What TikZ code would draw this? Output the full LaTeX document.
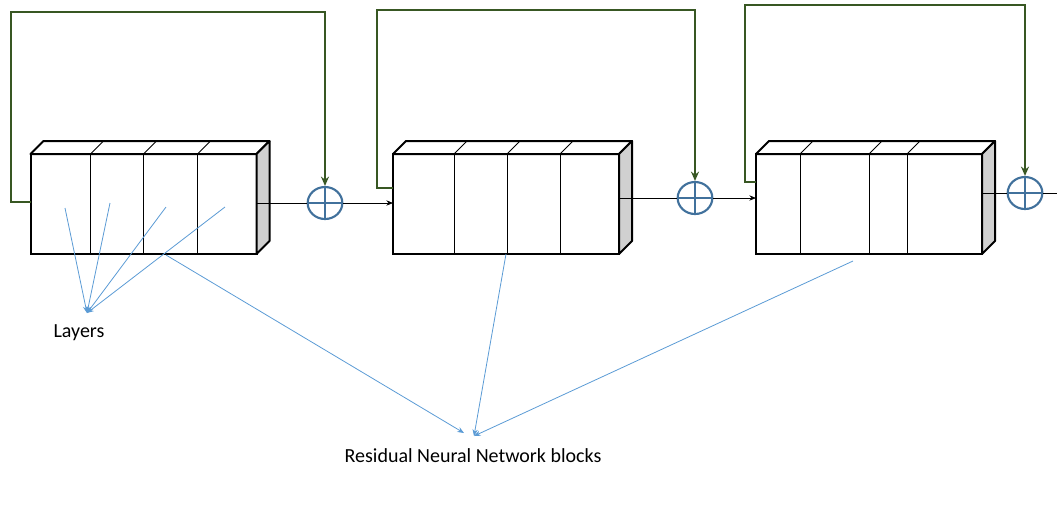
\documentclass[tikz,border=0pt]{standalone}
\usepackage{fontspec}
\setmainfont{Carlito}
\usetikzlibrary{arrows.meta, calc, shapes.geometric}
\definecolor{skipgreen}{HTML}{385723}
\definecolor{plusblue}{HTML}{41719C}
\definecolor{noteblue}{HTML}{5B9BD5}
\definecolor{sidegray}{HTML}{D0D0D0}

\begin{document}
\begin{tikzpicture}[x=0.75pt, y=-0.75pt, >=Stealth]

    % Define styles
    \tikzset{
        face/.style={draw, line width=1.5pt, fill=white, minimum width=169.5pt, minimum height=75pt, inner sep=0pt, outer sep=0pt},
        topface/.style={draw, line width=1.5pt, line join=round, fill=white},
        sideface/.style={draw, line width=1.5pt, line join=round, fill=sidegray},
        divider/.style={line width=0.6pt},
        flow/.style={line width=0.6pt},
        skip/.style={skipgreen, line width=1.6pt, -{Stealth[length=7pt, width=6pt]}},
        plus/.style={ellipse, draw=plusblue, line width=1.6pt, minimum width=26pt, minimum height=24pt, inner sep=0pt,
            path picture={\draw[plusblue, line width=1.6pt] (path picture bounding box.north) -- (path picture bounding box.south)
                (path picture bounding box.west) -- (path picture bounding box.east);}},
        note/.style={noteblue, line width=0.6pt, -{Stealth[length=5pt, width=4pt]}},
        caption/.style={font=\fontsize{15}{18}\selectfont, inner sep=0pt}
    }

    \useasboundingbox (0,0) rectangle (1057,512);

    % 1. Blocks (front face, top, side, layers)
    \def\dep{13}
    \foreach \n/\cx/\dl in {1/143.5/{60,113,167}, 2/506/{61,114,167}, 3/869/{44,113,151}} {
        \node[face] (b\n) at (\cx,204) {};
        \draw[topface] (b\n.north west) -- ++(\dep,-\dep) -- ++(226,0) -- (b\n.north east) -- cycle;
        \draw[sideface] (b\n.north east) -- ++(\dep,-\dep) -- ++(0,100) -- (b\n.south east) -- cycle;
        \foreach \d in \dl {
            \draw[divider] ($(b\n.north west)+(\d,0)$) -- ($(b\n.south west)+(\d,0)$);
            \draw[divider] ($(b\n.north west)+(\d,0)$) -- ++(\dep,-\dep);
        }
    }

    % 2. Sum nodes
    \node[plus] (p1) at (325,203) {};
    \node[plus] (p2) at (695,198) {};
    \node[plus] (p3) at (1025,193) {};
    \coordinate (out) at (1057,193);

    % 3. Main flow
    \draw[flow] (b1.east |- p1) -- (p1.west);
    \draw[flow, -{Stealth[length=5pt, width=4pt]}] (p1.east) -- (p1 -| b2.west);
    \draw[flow] (b2.east |- p2) -- (p2.west);
    \draw[flow, -{Stealth[length=5pt, width=4pt]}] (p2.east) -- (p2 -| b3.west);
    \draw[flow] (b3.east |- p3) -- (p3.west);
    \draw[flow] (p3.east) -- (out);

    % 4. Skip connections (green)
    \draw[skip] (b1.west |- 0,202) -| (11,12) -| (p1.north);
    \draw[skip] (b2.west |- 0,188) -| (377,10) -| (p2.north);
    \draw[skip] (b3.west |- 0,182) -| (745,5) -| (p3.north);

    % 5. Labels
    \node[caption] (lyr) at (79,333) {Layers};
    \node[caption] (rnb) at (473,456) {Residual Neural Network blocks};

    % Layers pointers
    \coordinate (lyrtip) at (87,313);
    \coordinate (l1) at (65,208);
    \coordinate (l2) at (110,203);
    \coordinate (l3) at (166,207);
    \coordinate (l4) at (225,207);
    \foreach \l in {l1,l2,l3,l4}
        \draw[note] (\l) -- (lyrtip);

    % Block pointers
    \coordinate (rt1) at (464,433);
    \coordinate (rt2) at (474,436);
    \coordinate (r1) at (166,255);
    \coordinate (r2) at (506,254);
    \coordinate (r3) at (853,261);
    \draw[note] (r1) -- (rt1);
    \draw[note] (r2) -- (rt2);
    \draw[note] (r3) -- (rt2);

\end{tikzpicture}
\end{document}
